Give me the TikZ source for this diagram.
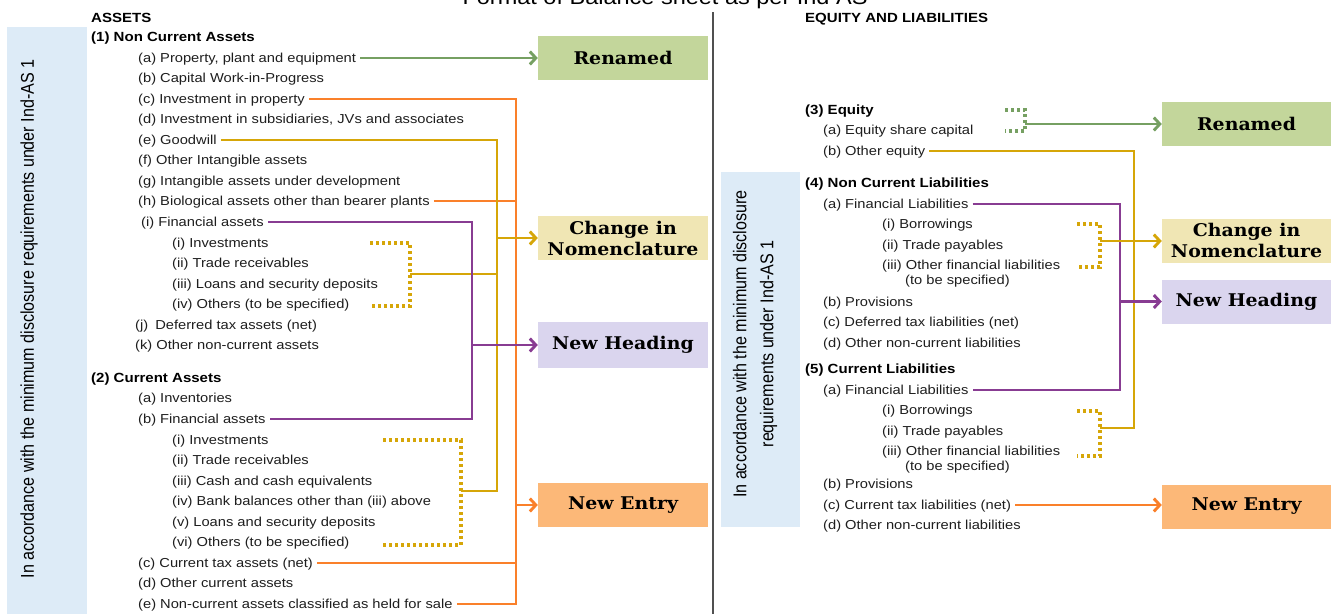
\documentclass[tikz,border=0pt]{standalone}
\usepackage{fontspec}
\setmainfont{Liberation Sans}[FakeStretch=1.13]
\newfontfamily\boxfont{DejaVu Serif}[FakeStretch=1.08]
\newfontfamily\sidefont{Liberation Sans}[FakeStretch=0.87]
\usetikzlibrary{arrows.meta}
\definecolor{sideblue}{RGB}{221,235,247}
\definecolor{boxgreen}{RGB}{195,214,155}
\definecolor{boxyellow}{RGB}{240,230,180}
\definecolor{boxlav}{RGB}{218,213,238}
\definecolor{boxorange}{RGB}{252,184,120}
\definecolor{lgreen}{RGB}{118,160,98}
\definecolor{lgold}{RGB}{214,166,8}
\definecolor{lorange}{RGB}{250,128,42}
\definecolor{lpurple}{RGB}{136,60,146}
\definecolor{txt}{RGB}{30,30,30}
\definecolor{divgray}{RGB}{80,80,80}
\tikzset{
  itm/.style={anchor=west, inner xsep=4pt, inner ysep=0pt, text height=9pt, text depth=0pt,
    font=\fontsize{13}{15}\selectfont, text=txt},
  hdr/.style={itm, font=\bfseries\fontsize{13.3}{15}\selectfont, text=black},
  tag/.style={minimum height=44pt, inner sep=0pt, align=center,
    font=\boxfont\bfseries\fontsize{17.5}{21}\selectfont, text=black},
  tagL/.style={tag, minimum width=170pt},
  tagR/.style={tag, minimum width=169pt},
  conn/.style={line width=2.9pt},
  tip/.style={-{Straight Barb[length=6pt,width=13pt,line width=2.9pt]}},
  dots/.style={line width=3.2pt, dash pattern=on 3pt off 3pt},
  sidetext/.style={rotate=90, align=center, font=\sidefont\fontsize{18.5}{27}\selectfont, text=black},
}
\begin{document}
\begin{tikzpicture}[x=1pt,y=-1pt]
\path[use as bounding box] (0,0) rectangle (1334,614);
\fill[white] (0,0) rectangle (1334,614);

% title (cut off at the top, as in the reference)
\node[anchor=base, inner sep=0pt, font=\fontsize{20.8}{24}\selectfont, text=black] (title) at (665,4.5) {Format of Balance sheet as per Ind AS};

% side panels
\fill[sideblue] (7,27) rectangle (87,614);
\node[sidetext] (sideL) at (29,319) {In accordance with the minimum disclosure requirements under Ind-AS 1};
\fill[sideblue] (721,172) rectangle (800,527);
\node[sidetext] (sideR) at (755,344) {In accordance with the minimum disclosure\\requirements under Ind-AS 1};

% divider
\draw[divgray, line width=1.4pt] (713,12) -- (713,614);

% ---------- left: assets ----------
\node[hdr] (assets) at (87,18) {ASSETS};
\node[hdr] (nca) at (87,37) {(1) Non Current Assets};
\node[itm] (ppe) at (134,58) {(a) Property, plant and equipment};
\node[itm] (cwip) at (134,78) {(b) Capital Work-in-Progress};
\node[itm] (ip) at (134,99) {(c) Investment in property};
\node[itm] (isub) at (134,119) {(d) Investment in subsidiaries, JVs and associates};
\node[itm] (gw) at (134,140) {(e) Goodwill};
\node[itm] (oia) at (134,160) {(f) Other Intangible assets};
\node[itm] (iaud) at (134,181) {(g) Intangible assets under development};
\node[itm] (bio) at (134,201) {(h) Biological assets other than bearer plants};
\node[itm] (fa1) at (137,222) {(i) Financial assets};
\node[itm] (nInv) at (168,243) {(i) Investments};
\node[itm] (nTr) at (168,263) {(ii) Trade receivables};
\node[itm] (nLoan) at (168,284) {(iii) Loans and security deposits};
\node[itm] (nOth) at (168,304) {(iv) Others (to be specified)};
\node[itm] (dta) at (131,325) {(j)\hspace{3pt} Deferred tax assets (net)};
\node[itm] (onca) at (131,345) {(k) Other non-current assets};
\node[hdr] (cah) at (87,378) {(2) Current Assets};
\node[itm] (inv) at (134,398) {(a) Inventories};
\node[itm] (fa2) at (134,419) {(b) Financial assets};
\node[itm] (cInv) at (168,440) {(i) Investments};
\node[itm] (cTr) at (168,460) {(ii) Trade receivables};
\node[itm] (cCash) at (168,481) {(iii) Cash and cash equivalents};
\node[itm] (cBank) at (168,501) {(iv) Bank balances other than (iii) above};
\node[itm] (cLoan) at (168,522) {(v) Loans and security deposits};
\node[itm] (cOth) at (168,542) {(vi) Others (to be specified)};
\node[itm] (cta) at (134,563) {(c) Current tax assets (net)};
\node[itm] (oca) at (134,583) {(d) Other current assets};
\node[itm] (ncas) at (134,604) {(e) Non-current assets classified as held for sale};

% left tags
\node[tagL, fill=boxgreen] (renL) at (623,57.5) {Renamed};
\node[tagL, fill=boxyellow] (cnL) at (623,238) {Change in\\Nomenclature};
\node[tagL, fill=boxlav, minimum height=46pt] (nhL) at (623,345) {New Heading};
\node[tagL, fill=boxorange] (neL) at (623,505) {New Entry};

% left connector rails
\coordinate (oX) at (516,0);
\coordinate (gX) at (497,0);
\coordinate (pX) at (472,0);
\coordinate (br1a) at (370,243);
\coordinate (br1b) at (410,243);
\coordinate (br1c) at (410,306);
\coordinate (br1d) at (370,306);
\coordinate (br1m) at (410,274);
\coordinate (br2a) at (383,440);
\coordinate (br2b) at (461,440);
\coordinate (br2c) at (461,545);
\coordinate (br2d) at (383,545);
\coordinate (br2m) at (461,491);

% green
\draw[lgreen, conn, tip] (ppe.east) -- (ppe.east -| renL.west);
% orange
\draw[lorange, conn] (ip.east) -- (ip.east -| oX) -- (oX |- ncas.east) -- (ncas.east);
\draw[lorange, conn] (bio.east) -- (bio.east -| oX);
\draw[lorange, conn] (cta.east) -- (cta.east -| oX);
\draw[lorange, conn, tip] (oX |- neL.west) -- (neL.west);
% gold
\draw[lgold, dots] (br1a) -- (br1b) -- (br1c) -- (br1d);
\draw[lgold, dots] (br2a) -- (br2b) -- (br2c) -- (br2d);
\draw[lgold, conn] (gw.east) -- (gw.east -| gX) -- (gX |- br2m) -- (br2m);
\draw[lgold, conn] (br1m) -- (br1m -| gX);
\draw[lgold, conn, tip] (gX |- cnL.west) -- (cnL.west);
% purple
\draw[lpurple, conn] (fa1.east) -- (fa1.east -| pX) -- (pX |- fa2.east) -- (fa2.east);
\draw[lpurple, conn, tip] (pX |- nhL.west) -- (nhL.west);

% ---------- right: equity and liabilities ----------
\node[hdr] (eqliab) at (801,18) {EQUITY AND LIABILITIES};
\node[hdr] (eqh) at (801,110) {(3) Equity};
\node[itm] (esc) at (819,130) {(a) Equity share capital};
\node[itm] (oeq) at (819,151) {(b) Other equity};
\node[hdr] (nclh) at (801,183) {(4) Non Current Liabilities};
\node[itm] (fl1) at (819,204) {(a) Financial Liabilities};
\node[itm] (bor1) at (878,224) {(i) Borrowings};
\node[itm] (tp1) at (878,245) {(ii) Trade payables};
\node[itm] (ofl1) at (878,265) {(iii) Other financial liabilities};
\node[itm] (tbs1) at (901,280) {(to be specified)};
\node[itm] (prov1) at (819,302) {(b) Provisions};
\node[itm] (dtl) at (819,322) {(c) Deferred tax liabilities (net)};
\node[itm] (oncl1) at (819,343) {(d) Other non-current liabilities};
\node[hdr] (clh) at (801,369) {(5) Current Liabilities};
\node[itm] (fl2) at (819,390) {(a) Financial Liabilities};
\node[itm] (bor2) at (878,410) {(i) Borrowings};
\node[itm] (tp2) at (878,431) {(ii) Trade payables};
\node[itm] (ofl2) at (878,451) {(iii) Other financial liabilities};
\node[itm] (tbs2) at (901,466) {(to be specified)};
\node[itm] (prov2) at (819,484) {(b) Provisions};
\node[itm] (ctl) at (819,505) {(c) Current tax liabilities (net)};
\node[itm] (oncl2) at (819,525) {(d) Other non-current liabilities};

% right tags
\node[tagR, fill=boxgreen] (renR) at (1246.5,124) {Renamed};
\node[tagR, fill=boxyellow] (cnR) at (1246.5,240.5) {Change in\\Nomenclature};
\node[tagR, fill=boxlav] (nhR) at (1246.5,301.5) {New Heading};
\node[tagR, fill=boxorange] (neR) at (1246.5,506.5) {New Entry};

\coordinate (gRX) at (1134,0);
\coordinate (pRX) at (1120,0);
\coordinate (eqa) at (1005,110);
\coordinate (eqb) at (1025,110);
\coordinate (eqc) at (1025,131);
\coordinate (eqd) at (1005,131);
\coordinate (eqm) at (1025,124);
\coordinate (br3a) at (1077,224);
\coordinate (br3b) at (1100,224);
\coordinate (br3c) at (1100,267);
\coordinate (br3d) at (1077,267);
\coordinate (br3m) at (1100,241);
\coordinate (br4a) at (1077,411);
\coordinate (br4b) at (1100,411);
\coordinate (br4c) at (1100,456);
\coordinate (br4d) at (1077,456);
\coordinate (br4m) at (1100,428);

% green
\draw[lgreen, dots] (eqa) -- (eqb) -- (eqc) -- (eqd);
\draw[lgreen, conn, tip] (eqm) -- (eqm -| renR.west);
% gold
\draw[lgold, dots] (br3a) -- (br3b) -- (br3c) -- (br3d);
\draw[lgold, dots] (br4a) -- (br4b) -- (br4c) -- (br4d);
\draw[lgold, conn] (oeq.east) -- (oeq.east -| gRX) -- (gRX |- br4m) -- (br4m);
% purple
\draw[lpurple, conn] (fl1.east) -- (fl1.east -| pRX) -- (pRX |- fl2.east) -- (fl2.east);
\draw[lgold, conn, tip] (br3m) -- (br3m -| cnR.west);
\draw[lpurple, conn, tip] (pRX |- nhR.west) -- (nhR.west);
% orange
\draw[lorange, conn, tip] (ctl.east) -- (ctl.east -| neR.west);
\end{tikzpicture}
\end{document}
